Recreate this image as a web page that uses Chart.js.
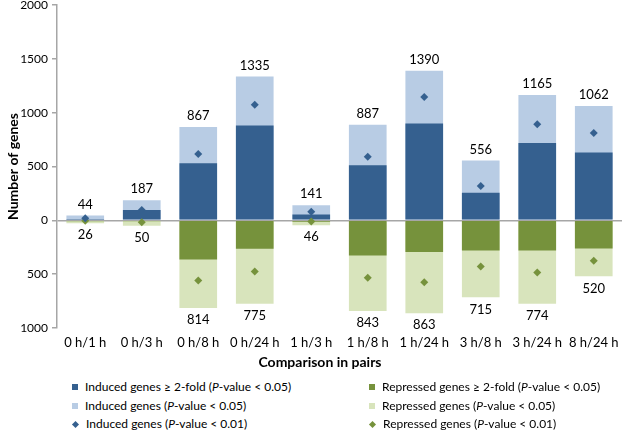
<!DOCTYPE html>
<html>
<head>
<meta charset="utf-8">
<script src="https://cdn.jsdelivr.net/npm/chart.js@4.4.1/dist/chart.umd.min.js"></script>
<style>
  body { margin: 0; background: #fff; font-family: Lato, sans-serif; }
  #wrap { position: relative; width: 626px; height: 435px; }
  #canvas { position: absolute; left: 0; top: 0; }
  #xtitle { position: absolute; top: 353px; left: 220px; width: 200px; text-align: center;
            font-weight: bold; font-size: 14px; color: #000; }
  .leg { position: absolute; font-size: 12px; color: #000; white-space: nowrap; line-height: 14px; }
  .leg i.box { display: inline-block; width: 6px; height: 6px; margin-right: 7px; vertical-align: 1px; }
  .leg i.dia { display: inline-block; width: 5px; height: 5px; margin: 0 8px 0 1px; transform: rotate(45deg); vertical-align: 1px; }
</style>
</head>
<body>
<div id="wrap">
  <canvas id="canvas" width="626" height="375"></canvas>
  <div id="xtitle">Comparison in pairs</div>
  <div id="legend"></div>
</div>
<script>
// categories
let pairs = ['0 h/1 h', '0 h/3 h', '0 h/8 h', '0 h/24 h', '1 h/3 h', '1 h/8 h', '1 h/24 h', '3 h/8 h', '3 h/24 h', '8 h/24 h'];

// induced genes
let inducedTotal = [44, 187, 867, 1335, 141, 887, 1390, 556, 1165, 1062];
let induced2fold = [12, 95, 530, 880, 55, 512, 900, 256, 719, 630];
let induced001 = [20, 95, 617, 1074, 80, 590, 1145, 318, 892, 812];

// repressed genes (drawn downwards)
let repressedTotal = [26, 50, 814, 775, 46, 843, 863, 715, 774, 520];
let repressed2fold = [8, 8, 364, 265, 12, 327, 293, 281, 281, 262];
let repressed001 = [5, 18, 558, 475, 10, 533, 574, 429, 484, 376];

let yTicks = [-1000, -500, 0, 500, 1000, 1500, 2000];

let darkBlue = '#35608f';
let lightBlue = '#b8cce4';
let darkGreen = '#76923c';
let lightGreen = '#d8e4bc';
let axisGrey = '#a6a6a6';

let neg = function(arr){ return arr.map(function(v){ return -v; }); };

// totals written above / below the bars
let totalLabels = {
  id: 'totalLabels',
  afterDatasetsDraw: function(chart){
    let ctx = chart.ctx;
    ctx.save();
    ctx.font = '13px Lato';
    ctx.fillStyle = '#000';
    ctx.textAlign = 'center';
    ctx.textBaseline = 'middle';
    let up = chart.getDatasetMeta(2);
    let down = chart.getDatasetMeta(3);
    for (let i = 0; i < pairs.length; i++){
      ctx.fillText(String(inducedTotal[i]), up.data[i].x, up.data[i].y - 11);
      ctx.fillText(String(repressedTotal[i]), down.data[i].x, down.data[i].y + 12);
    }
    ctx.restore();
  }
};

let chart = new Chart(document.getElementById('canvas').getContext('2d'), {
  type: 'bar',
  data: {
    labels: pairs,
    datasets: [
      { label: 'Induced genes \u2265 2-fold (P-value < 0.05)', data: induced2fold, backgroundColor: darkBlue, order: 1, grouped: false },
      { label: 'Repressed genes \u2265 2-fold (P-value < 0.05)', data: neg(repressed2fold), backgroundColor: darkGreen, order: 1, grouped: false },
      { label: 'Induced genes (P-value < 0.05)', data: inducedTotal, backgroundColor: lightBlue, order: 2, grouped: false },
      { label: 'Repressed genes (P-value < 0.05)', data: neg(repressedTotal), backgroundColor: lightGreen, order: 2, grouped: false },
      { type: 'line', label: 'Induced genes (P-value < 0.01)', data: induced001, showLine: false,
        pointStyle: 'rectRot', pointRadius: 4, pointBackgroundColor: darkBlue, pointBorderWidth: 0, order: 0 },
      { type: 'line', label: 'Repressed genes (P-value < 0.01)', data: neg(repressed001), showLine: false,
        pointStyle: 'rectRot', pointRadius: 4, pointBackgroundColor: darkGreen, pointBorderWidth: 0, order: 0 }
    ]
  },
  options: {
    responsive: false,
    animation: false,
    devicePixelRatio: 1,
    categoryPercentage: 1,
    barPercentage: 0.667,
    layout: { padding: { top: 5, right: 0, left: 5, bottom: 0 } },
    plugins: { legend: { display: false }, tooltip: { enabled: false } },
    scales: {
      x: {
        grid: { display: false, drawTicks: false },
        border: { display: false },
        ticks: { color: '#000', font: { family: 'Lato', size: 13 }, padding: 7, maxRotation: 0, autoSkip: false },
        afterFit: function(scale){ scale.height = 47; scale.paddingLeft = 0; scale.paddingRight = 0; }
      },
      y: {
        min: -1000,
        max: 2000,
        afterBuildTicks: function(scale){ scale.ticks = yTicks.map(function(v){ return { value: v }; }); },
        grid: {
          color: function(c){ return c.tick && c.tick.value === 0 ? axisGrey : 'rgba(0,0,0,0)'; },
          tickColor: axisGrey,
          tickLength: 5,
          lineWidth: 1.5
        },
        border: { display: true, color: axisGrey, width: 1.5 },
        ticks: {
          color: '#000',
          font: { family: 'Lato', size: 12 },
          padding: 4,
          callback: function(v){ return Math.abs(v); }
        },
        title: { display: true, text: 'Number of genes', color: '#000', font: { family: 'Lato', size: 14, weight: 'bold' }, padding: 0 },
        afterFit: function(scale){ scale.width = 52; scale.paddingTop = 0; scale.paddingBottom = 0; }
      }
    }
  },
  plugins: [totalLabels]
});

// two-column legend below the chart
let legendItems = [
  { text: 'Induced genes \u2265 2-fold (', it: 'P', rest: '-value < 0.05)', color: darkBlue, kind: 'box', x: 72, y: 380 },
  { text: 'Induced genes (', it: 'P', rest: '-value < 0.05)', color: lightBlue, kind: 'box', x: 72, y: 399 },
  { text: 'Induced genes (', it: 'P', rest: '-value < 0.01)', color: darkBlue, kind: 'dia', x: 72, y: 417 },
  { text: 'Repressed genes \u2265 2-fold (', it: 'P', rest: '-value < 0.05)', color: darkGreen, kind: 'box', x: 369, y: 380 },
  { text: 'Repressed genes (', it: 'P', rest: '-value < 0.05)', color: lightGreen, kind: 'box', x: 369, y: 399 },
  { text: 'Repressed genes (', it: 'P', rest: '-value < 0.01)', color: darkGreen, kind: 'dia', x: 369, y: 417 }
];
let legend = document.getElementById('legend');
legendItems.forEach(function(item){
  let d = document.createElement('div');
  d.className = 'leg';
  d.style.left = item.x + 'px';
  d.style.top = item.y + 'px';
  d.innerHTML = '<i class="' + item.kind + '" style="background:' + item.color + '"></i>' +
    item.text + '<em>' + item.it + '</em>' + item.rest;
  legend.appendChild(d);
});
</script>
</body>
</html>
